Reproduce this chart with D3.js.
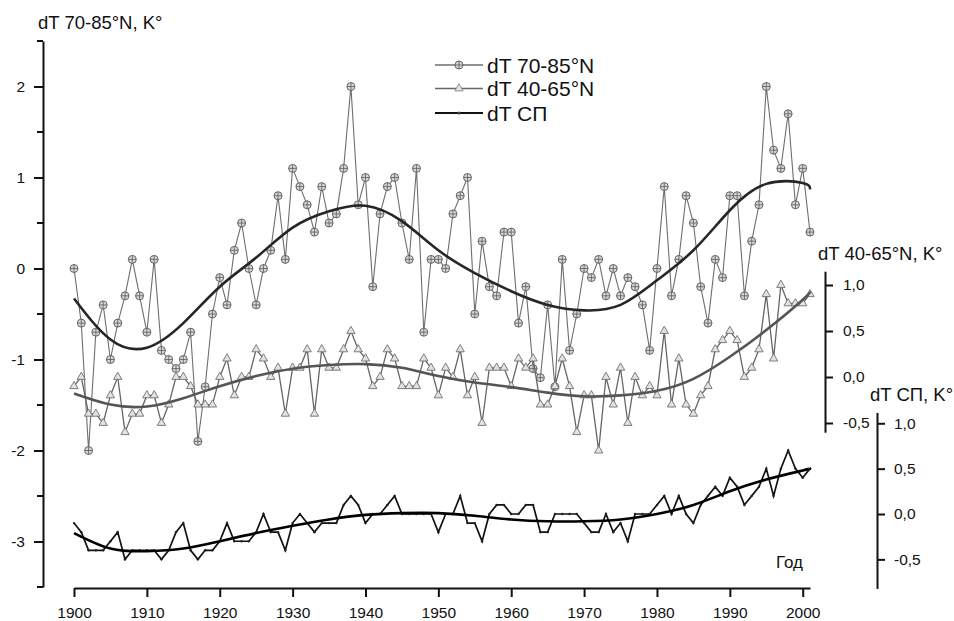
<!DOCTYPE html>
<html>
<head>
<meta charset="utf-8">
<script src="https://cdn.jsdelivr.net/npm/d3@7"></script>
<style>
  body { margin: 0; background: #fff; }
  svg { font-family: "Liberation Sans", Arial, sans-serif; }
</style>
</head>
<body>
<div id="chart"></div>
<script>
// годы наблюдений
const years = d3.range(1900, 2002);

// dT 70-85°N, K° (левая ось)
const dT7085 = [
  0.0, -0.6, -2.0, -0.7, -0.4, -1.0, -0.6, -0.3, 0.1, -0.3,
  -0.7, 0.1, -0.9, -1.0, -1.1, -1.0, -0.7, -1.9, -1.3, -0.5,
  -0.1, -0.4, 0.2, 0.5, 0.0, -0.4, 0.0, 0.2, 0.8, 0.1,
  1.1, 0.9, 0.7, 0.4, 0.9, 0.5, 0.6, 1.1, 2.0, 0.7,
  1.0, -0.2, 0.6, 0.9, 1.0, 0.5, 0.1, 1.1, -0.7, 0.1,
  0.1, 0.0, 0.6, 0.8, 1.0, -0.5, 0.3, -0.2, -0.3, 0.4,
  0.4, -0.6, -0.2, -1.1, -1.2, -0.4, -1.3, 0.1, -0.9, -0.5,
  0.0, -0.1, 0.1, -0.3, 0.0, -0.3, -0.1, -0.2, -0.4, -0.9,
  0.0, 0.9, -0.3, 0.1, 0.8, 0.5, -0.2, -0.6, 0.1, -0.1,
  0.8, 0.8, -0.3, 0.3, 0.7, 2.0, 1.3, 1.1, 1.7, 0.7,
  1.1, 0.4
];

// dT 40-65°N, K° (первая правая ось)
const dT4065 = [
  -0.1, 0.0, -0.4, -0.4, -0.5, -0.2, 0.0, -0.6, -0.4, -0.4,
  -0.2, -0.2, -0.5, -0.3, 0.0, 0.0, -0.1, -0.3, -0.3, -0.3,
  0.0, 0.2, -0.2, 0.0, 0.0, 0.3, 0.2, 0.0, 0.1, -0.4,
  0.1, 0.1, 0.3, -0.4, 0.3, 0.1, 0.1, 0.3, 0.5, 0.3,
  0.2, -0.1, 0.0, 0.3, 0.2, -0.1, -0.1, -0.1, 0.2, 0.1,
  -0.2, 0.1, 0.0, 0.3, -0.2, 0.0, -0.5, 0.1, 0.1, 0.1,
  -0.1, 0.2, 0.1, 0.2, -0.3, -0.3, -0.1, 0.2, -0.1, -0.6,
  -0.2, -0.2, -0.8, 0.0, -0.3, 0.1, -0.5, 0.0, -0.2, -0.1,
  -0.2, 0.5, -0.3, 0.2, -0.3, -0.4, -0.2, -0.1, 0.3, 0.4,
  0.5, 0.4, 0.0, 0.1, 0.3, 0.9, 0.2, 1.0, 0.8, 0.8,
  0.8, 0.9
];

// dT СП, K° (вторая правая ось)
const dTSP = [
  -0.1, -0.2, -0.4, -0.4, -0.4, -0.3, -0.2, -0.5, -0.4, -0.4,
  -0.4, -0.4, -0.5, -0.4, -0.2, -0.1, -0.4, -0.5, -0.4, -0.4,
  -0.3, -0.1, -0.3, -0.3, -0.3, -0.2, 0.0, -0.2, -0.2, -0.4,
  -0.1, 0.0, -0.1, -0.2, -0.1, -0.1, -0.1, 0.1, 0.2, 0.1,
  -0.1, 0.0, 0.0, 0.1, 0.2, 0.0, 0.0, 0.0, 0.0, 0.0,
  -0.2, 0.0, 0.0, 0.2, -0.1, -0.1, -0.3, 0.0, 0.1, 0.1,
  0.0, 0.0, 0.1, 0.1, -0.2, -0.2, 0.0, 0.0, 0.0, 0.0,
  -0.1, -0.2, -0.2, 0.0, -0.2, -0.1, -0.3, 0.0, 0.0, 0.0,
  0.1, 0.2, 0.0, 0.2, 0.0, -0.1, 0.1, 0.2, 0.3, 0.2,
  0.4, 0.3, 0.1, 0.2, 0.3, 0.5, 0.2, 0.5, 0.7, 0.5,
  0.4, 0.5
];

// сглаженные кривые (тренды)
const trendYears = [1900, 1905, 1910, 1915, 1920, 1925, 1930, 1935, 1940, 1945, 1950,
  1955, 1960, 1965, 1970, 1975, 1980, 1985, 1990, 1995, 2000, 2001];
const trend7085 = [-0.33, -0.78, -0.87, -0.6, -0.2, 0.12, 0.45, 0.63, 0.69, 0.52, 0.2,
  -0.05, -0.25, -0.4, -0.46, -0.4, -0.13, 0.2, 0.64, 0.93, 0.94, 0.87];
const trend4065 = [-0.18, -0.3, -0.32, -0.23, -0.1, 0.01, 0.09, 0.13, 0.14, 0.1, 0.01,
  -0.06, -0.11, -0.17, -0.21, -0.2, -0.15, -0.02, 0.22, 0.51, 0.84, 0.93];
const trendSP = [-0.21, -0.38, -0.41, -0.38, -0.3, -0.21, -0.13, -0.06, -0.01, 0.01, 0.01,
  -0.02, -0.06, -0.08, -0.08, -0.06, 0.0, 0.1, 0.25, 0.38, 0.48, 0.5];

const xTicks = d3.range(1900, 2001, 10);
const leftTicks = [-3, -2, -1, 0, 1, 2];
const leftMinor = [-3.5, -2.5, -1.5, -0.5, 0.5, 1.5, 2.5];
const rightTicks = [-0.5, 0, 0.5, 1];
const legendLabels = ["dT 70-85°N", "dT 40-65°N", "dT СП"];

const width = 954, height = 621;
const svg = d3.select("#chart").append("svg")
  .attr("width", width)
  .attr("height", height);

const x = d3.scaleLinear().domain([1900, 2001]).range([74, 810]);
const yL = d3.scaleLinear().domain([-3.5, 2.5]).range([587, 41]);
const yR1 = d3.scaleLinear().domain([-0.6, 1.15]).range([432.2, 271.2]);
const yR2 = d3.scaleLinear().domain([-0.82, 1.12]).range([588.4, 412.4]);

// запятая как десятичный разделитель, дефис вместо минуса
const ru = d3.formatLocale({decimal: ",", thousands: " ", grouping: [3], currency: ["", ""], minus: "-"});
const fmt1 = ru.format(".1f");
const fmt0 = ru.format("d");

function styleAxis(g, size) {
  g.selectAll(".domain").attr("stroke", "#111").attr("stroke-width", 2);
  g.selectAll(".tick line").attr("stroke", "#111").attr("stroke-width", 2);
  g.selectAll(".tick text").attr("fill", "#111").style("font-size", size || "15.5px");
}

// X axis
svg.append("g")
  .attr("transform", "translate(0,588)")
  .call(d3.axisBottom(x).tickValues(xTicks).tickFormat(fmt0)
    .tickSize(9).tickSizeOuter(0).tickPadding(10))
  .call(styleAxis);

// left axis
const gl = svg.append("g")
  .attr("transform", "translate(43,0)")
  .call(d3.axisLeft(yL).tickValues(leftTicks).tickFormat(fmt0)
    .tickSize(9).tickSizeOuter(0).tickPadding(9))
  .call(styleAxis);
gl.selectAll(".minor").data(leftMinor).enter()
  .append("line")
  .attr("class", "minor")
  .attr("x1", -6).attr("x2", 0)
  .attr("y1", function(d){ return yL(d); })
  .attr("y2", function(d){ return yL(d); })
  .attr("stroke", "#111").attr("stroke-width", 2);

// right axes
svg.append("g")
  .attr("transform", "translate(825,0)")
  .call(d3.axisRight(yR1).tickValues(rightTicks).tickFormat(fmt1)
    .tickSize(8).tickSizeOuter(0).tickPadding(10))
  .call(styleAxis);

svg.append("g")
  .attr("transform", "translate(877,0)")
  .call(d3.axisRight(yR2).tickValues(rightTicks).tickFormat(fmt1)
    .tickSize(8).tickSizeOuter(0).tickPadding(9))
  .call(styleAxis);

// axis titles
function title(tx, ty, txt, size) {
  svg.append("text")
    .attr("x", tx).attr("y", ty)
    .attr("fill", "#111")
    .style("font-size", size)
    .text(txt);
}
title(38, 29, "dT 70-85°N, K°", "18.5px");
title(818, 260, "dT 40-65°N, K°", "18.5px");
title(870, 401, "dT СП, K°", "18.5px");
svg.append("text")
  .attr("x", 803).attr("y", 568)
  .attr("text-anchor", "end")
  .attr("fill", "#111")
  .style("font-size", "17px")
  .text("Год");

// series
const line = function(yScale, vals) {
  return d3.line()
    .x(function(d, i){ return x(years[i]); })
    .y(function(d){ return yScale(d); })(vals);
};
const trend = function(yScale, vals) {
  return d3.line()
    .curve(d3.curveNatural)
    .x(function(d, i){ return x(trendYears[i]); })
    .y(function(d){ return yScale(d); })(vals);
};

const tri = d3.symbol().type(d3.symbolTriangle).size(30);

function circleMark(sel) {
  sel.append("circle").attr("r", 4)
    .attr("fill", "#d6d6d6").attr("stroke", "#5a5a5a").attr("stroke-width", 0.9);
  sel.append("path").attr("d", "M-4,0H4M0,-4V4")
    .attr("stroke", "#5a5a5a").attr("stroke-width", 0.8);
}

// 70-85
svg.append("path")
  .attr("d", line(yL, dT7085))
  .attr("fill", "none").attr("stroke", "#6e6e6e").attr("stroke-width", 1.1);
svg.append("g").selectAll("g")
  .data(dT7085).enter()
  .append("g")
  .attr("transform", function(d, i){ return "translate(" + x(years[i]) + "," + yL(d) + ")"; })
  .call(circleMark);

// 40-65
svg.append("path")
  .attr("d", line(yR1, dT4065))
  .attr("fill", "none").attr("stroke", "#666").attr("stroke-width", 1.3);
svg.append("g").selectAll("path")
  .data(dT4065).enter()
  .append("path")
  .attr("d", tri)
  .attr("transform", function(d, i){ return "translate(" + x(years[i]) + "," + yR1(d) + ")"; })
  .attr("fill", "#e2e2e2").attr("stroke", "#707070").attr("stroke-width", 0.9);

// СП
svg.append("path")
  .attr("d", line(yR2, dTSP))
  .attr("fill", "none").attr("stroke", "#111").attr("stroke-width", 1.7);
svg.append("g").selectAll("circle")
  .data(dTSP).enter()
  .append("circle")
  .attr("cx", function(d, i){ return x(years[i]); })
  .attr("cy", function(d){ return yR2(d); })
  .attr("r", 1.2).attr("fill", "#222");

// trends
svg.append("path").attr("d", trend(yL, trend7085))
  .attr("fill", "none").attr("stroke", "#262626").attr("stroke-width", 2.6);
svg.append("path").attr("d", trend(yR1, trend4065))
  .attr("fill", "none").attr("stroke", "#555").attr("stroke-width", 2.6);
svg.append("path").attr("d", trend(yR2, trendSP))
  .attr("fill", "none").attr("stroke", "#000").attr("stroke-width", 2.6);

// legend
const lg = svg.append("g").attr("transform", "translate(435,65)");
const rows = lg.selectAll("g").data(legendLabels).enter()
  .append("g")
  .attr("transform", function(d, i){ return "translate(0," + [0, 23.5, 48][i] + ")"; });
rows.append("line")
  .attr("x1", 0).attr("x2", 48)
  .attr("stroke", function(d, i){ return ["#6e6e6e", "#666", "#111"][i]; })
  .attr("stroke-width", function(d, i){ return [1.3, 1.5, 1.8][i]; });
circleMark(rows.filter(function(d, i){ return i === 0; }).append("g").attr("transform", "translate(24,0)"));
rows.filter(function(d, i){ return i === 1; }).append("path")
  .attr("d", tri).attr("transform", "translate(24,0)")
  .attr("fill", "#e2e2e2").attr("stroke", "#8a8a8a").attr("stroke-width", 0.9);
rows.filter(function(d, i){ return i === 2; }).append("circle")
  .attr("cx", 24).attr("r", 1.6).attr("fill", "#444");
rows.append("text")
  .attr("x", 52).attr("dy", "0.36em")
  .attr("fill", "#111")
  .style("font-size", "21px")
  .text(function(d){ return d; });
</script>
</body>
</html>
